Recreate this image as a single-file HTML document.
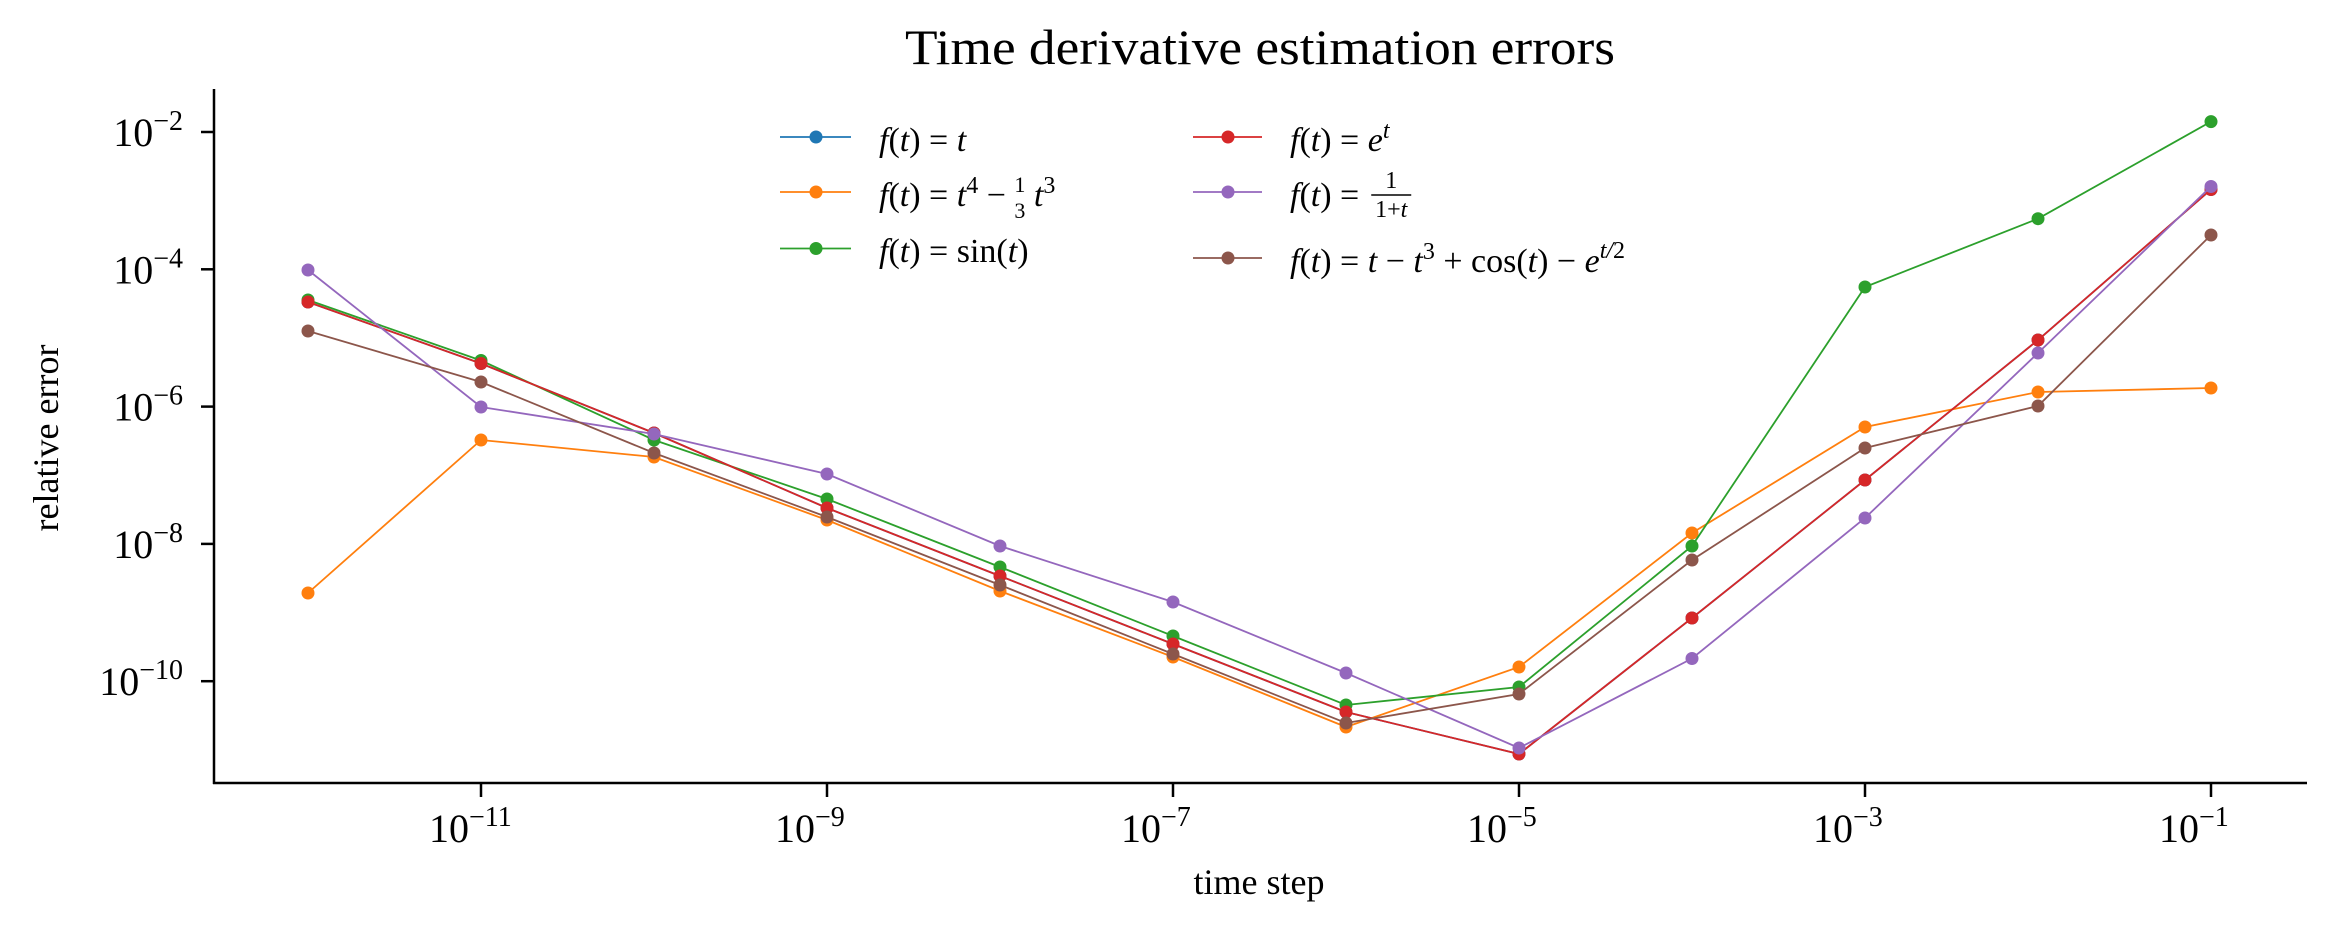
<!DOCTYPE html>
<html><head><meta charset="utf-8"><style>
html,body{margin:0;padding:0;background:#fff;}
svg{display:block;}
text{font-family:"Liberation Serif",serif;fill:#000;}
.it{font-style:italic;}
</style></head><body>
<svg id="s" width="2335" height="932" viewBox="0 0 2335 932" xmlns="http://www.w3.org/2000/svg">
<text x="1260" y="64" font-size="50" text-anchor="middle" textLength="710" lengthAdjust="spacingAndGlyphs">Time derivative estimation errors</text>
<line x1="214" y1="89" x2="214" y2="784" stroke="#000" stroke-width="2.5"/>
<line x1="213" y1="783" x2="2307" y2="783" stroke="#000" stroke-width="2.5"/>
<g id="ticks" stroke="#000" stroke-width="2.5"></g>
<g id="labels" font-size="40"></g>
<text transform="translate(58,438) rotate(-90)" font-size="36" text-anchor="middle">relative error</text>
<text x="1259" y="894" font-size="36" text-anchor="middle">time step</text>
<g id="series"></g>
<g id="legend" font-size="34"></g>
</svg>
<script>
var NS="http://www.w3.org/2000/svg";
function el(p,t,a,txt){var e=document.createElementNS(NS,t);for(var k in a)e.setAttribute(k,a[k]);if(txt!==undefined)e.textContent=txt;p.appendChild(e);return e;}
var ticks=document.getElementById('ticks'),labels=document.getElementById('labels');
[-11,-9,-7,-5,-3,-1].forEach(function(p){var x=481+173*(p+11);el(ticks,'line',{x1:x,y1:784,x2:x,y2:797});
 var t=el(labels,'text',{x:x-52,y:842});t.textContent='10';el(t,'tspan',{dy:-16,'font-size':28},'\u2212'+(-p));});
[-2,-4,-6,-8,-10].forEach(function(p){var y=132+68.65*(-2-p);el(ticks,'line',{x1:214,y1:y,x2:201,y2:y});
 var t=el(labels,'text',{x:183,y:y+14,'text-anchor':'end'});t.textContent='10';el(t,'tspan',{dy:-16,'font-size':28},'\u2212'+(-p));});
var xs=[308,481,654,827,1000,1173,1346,1519,1692,1865,2038,2211];
var S=[
 ['#1f77b4',[302,363.5,433,508,576,644,712,754,618,480,340,189.5]],
 ['#ff7f0e',[593,440,457,520,591,657,727,667,533,427,392,388]],
 ['#2ca02c',[300,360.5,440,499,567,636,705,687,546,287,218.7,121.6]],
 ['#d62728',[302,363.5,433,508,576,644,712,754,618,480,340,189.5]],
 ['#9467bd',[270,407,434,474,546,602,673,748,658.5,518,353,186.5]],
 ['#8c564b',[331,382,453,517,585,654,723,694,560,448,406,235]]];
var g=document.getElementById('series');
S.forEach(function(s){var d=s[1].map(function(y,i){return (i?'L':'M')+xs[i]+' '+y;}).join(' ');
 el(g,'path',{d:d,fill:'none',stroke:s[0],'stroke-width':1.8});
 s[1].forEach(function(y,i){el(g,'circle',{cx:xs[i],cy:y,r:6.5,fill:s[0]});});});
var L=document.getElementById('legend');
var items=[[780,851,816,879,137,'#1f77b4'],[780,851,816,879,192,'#ff7f0e'],[780,851,816,879,248.5,'#2ca02c'],
 [1193,1262,1228,1290,137,'#d62728'],[1193,1262,1228,1290,192,'#9467bd'],[1193,1262,1228,1290,258,'#8c564b']];
items.forEach(function(it){el(L,'line',{x1:it[0],y1:it[4],x2:it[1],y2:it[4],stroke:it[5],'stroke-width':1.8});
 el(L,'circle',{cx:it[2],cy:it[4],r:6.5,fill:it[5]});});
function lt(x,y,html){var t=el(L,'text',{x:x,y:y});t.innerHTML=html;return t;}
lt(879,151,'<tspan class="it">f</tspan>(<tspan class="it">t</tspan>) = <tspan class="it">t</tspan>');
lt(879,206,'<tspan class="it">f</tspan>(<tspan class="it">t</tspan>) = <tspan class="it">t</tspan><tspan dy="-13" font-size="24">4</tspan><tspan dy="13"> \u2212 </tspan><tspan font-size="22" dy="-14">1</tspan><tspan font-size="22" dx="-11" dy="26">3</tspan><tspan dy="-12" class="it"> t</tspan><tspan dy="-13" font-size="24">3</tspan>');
lt(879,262,'<tspan class="it">f</tspan>(<tspan class="it">t</tspan>) = sin(<tspan class="it">t</tspan>)');
lt(1290,151,'<tspan class="it">f</tspan>(<tspan class="it">t</tspan>) = <tspan class="it">e</tspan><tspan dy="-13" font-size="24" class="it">t</tspan>');
var t5=lt(1290,206,'<tspan class="it">f</tspan>(<tspan class="it">t</tspan>) =');
var bb=t5.getBBox();var fx=bb.x+bb.width+12;
el(L,'text',{x:fx+20,y:188,'font-size':24,'text-anchor':'middle'},'1');
el(L,'line',{x1:fx,y1:195,x2:fx+40,y2:195,stroke:'#000','stroke-width':1.5});
var d5=el(L,'text',{x:fx+20,y:217,'font-size':24,'text-anchor':'middle'});d5.innerHTML='1+<tspan class="it">t</tspan>';
lt(1290,272,'<tspan class="it">f</tspan>(<tspan class="it">t</tspan>) = <tspan class="it">t</tspan> \u2212 <tspan class="it">t</tspan><tspan dy="-13" font-size="24">3</tspan><tspan dy="13"> + cos(</tspan><tspan class="it">t</tspan>) \u2212 <tspan class="it">e</tspan><tspan dy="-14" font-size="24" class="it">t/</tspan><tspan font-size="24">2</tspan>');
</script>
</body></html>
